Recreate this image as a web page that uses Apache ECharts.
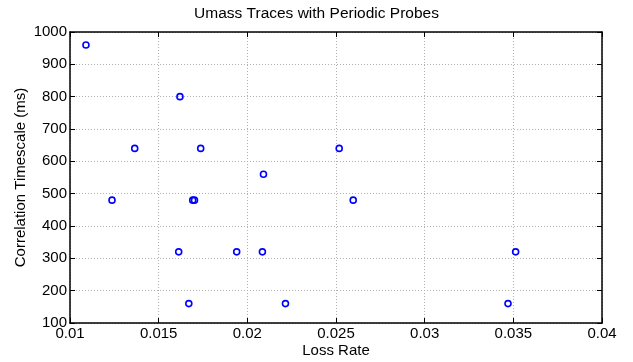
<!DOCTYPE html>
<html>
<head>
<meta charset="utf-8">
<script src="https://cdn.jsdelivr.net/npm/echarts@6/dist/echarts.min.js"></script>
<style>
  html, body { margin: 0; padding: 0; background: #fff; }
  #chart { width: 633px; height: 362px; }
</style>
</head>
<body>
<div id="chart"></div>
<script>
// loss rate vs correlation timescale
var lossRate = [0.0109, 0.0162, 0.01365, 0.01737, 0.02091, 0.02518, 0.01237, 0.01692, 0.01702,
                0.02597, 0.01613, 0.0194, 0.02085, 0.03513, 0.0167, 0.02215, 0.0347];
var timescale = [960, 800, 640, 640, 560, 640, 480, 480, 480,
                 480, 320, 320, 320, 320, 160, 160, 160];
var xTicks = [0.01, 0.015, 0.02, 0.025, 0.03, 0.035, 0.04];
var yTicks = [100, 200, 300, 400, 500, 600, 700, 800, 900, 1000];

var points = [];
for (var i = 0; i < lossRate.length; i++) {
    points.push([lossRate[i], timescale[i]]);
}

var font = 'Liberation Sans, Arial, Helvetica, sans-serif';
var dotted = { show: true, lineStyle: { color: '#b0b0b0', type: [1, 2], width: 1 } };

var chart = echarts.init(document.getElementById('chart'));
chart.setOption({
    animation: false,
    title: {
        text: 'Umass Traces with Periodic Probes',
        left: 'center', top: 1,
        textStyle: { fontFamily: font, fontSize: 15.5, fontWeight: 'normal', color: '#000' }
    },
    grid: { left: 70, right: 31, top: 32, bottom: 39, show: false, outerBoundsMode: 'none' },
    xAxis: [{
        type: 'value', min: xTicks[0], max: xTicks[xTicks.length - 1], interval: 0.005,
        name: 'Loss Rate', nameLocation: 'middle', nameGap: 20, nameMoveOverlap: false,
        nameTextStyle: { fontFamily: font, fontSize: 15, color: '#000' },
        axisLine: { onZero: false, lineStyle: { color: '#000', width: 1.5 } },
        axisTick: { inside: true, length: 5, lineStyle: { color: '#000' } },
        axisLabel: { fontFamily: font, fontSize: 15, color: '#000', margin: 3,
            formatter: function (v) { return String(+v.toFixed(3)); } },
        splitLine: dotted
    }, {
        type: 'value', position: 'top', min: xTicks[0], max: xTicks[xTicks.length - 1], interval: 0.005,
        axisLine: { lineStyle: { color: '#000', width: 1.5 } },
        axisTick: { inside: true, length: 5, lineStyle: { color: '#000' } },
        axisLabel: { show: false }, splitLine: { show: false }
    }],
    yAxis: [{
        type: 'value', min: yTicks[0], max: yTicks[yTicks.length - 1], interval: 100,
        name: 'Correlation Timescale (ms)', nameLocation: 'middle', nameGap: 42, nameMoveOverlap: false,
        nameTextStyle: { fontFamily: font, fontSize: 15, color: '#000' },
        axisLine: { show: true, onZero: false, lineStyle: { color: '#000', width: 1.5 } },
        axisTick: { show: true, inside: true, length: 5, lineStyle: { color: '#000' } },
        axisLabel: { fontFamily: font, fontSize: 15, color: '#000', margin: 3,
            formatter: function (v) { return String(v); } },
        splitLine: dotted
    }, {
        type: 'value', position: 'right', min: yTicks[0], max: yTicks[yTicks.length - 1], interval: 100,
        axisLine: { show: true, lineStyle: { color: '#000', width: 1.5 } },
        axisTick: { show: true, inside: true, length: 5, lineStyle: { color: '#000' } },
        axisLabel: { show: false }, splitLine: { show: false }
    }],
    series: [{
        type: 'scatter',
        data: points,
        symbol: 'circle',
        symbolSize: 6,
        itemStyle: { color: 'rgba(0,0,0,0)', borderColor: '#0000ff', borderWidth: 1.6, opacity: 1 }
    }]
});
</script>
</body>
</html>
